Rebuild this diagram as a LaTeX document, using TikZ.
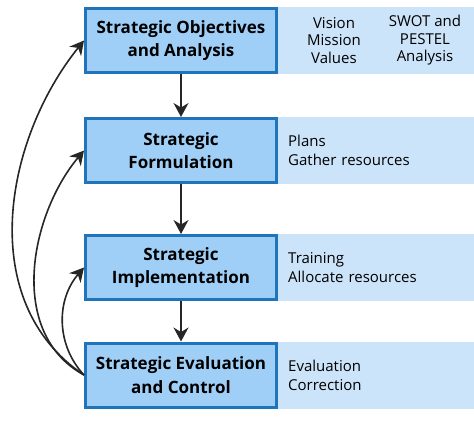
\documentclass[tikz,border=0pt]{standalone}
\usepackage{fontspec}
\setmainfont{Open Sans}
\usetikzlibrary{positioning,arrows.meta}
\definecolor{boxfill}{HTML}{9FCFF7}
\definecolor{boxline}{HTML}{1F74BA}
\definecolor{infofill}{HTML}{CCE4F9}

\begin{document}
\begin{tikzpicture}[x=1pt, y=-1pt,
  stage/.style={draw=boxline, fill=boxfill, line width=3pt, align=center, minimum width=191pt, minimum height=64pt, inner sep=1pt, font=\fontsize{17}{23.5}\selectfont\bfseries},
  info/.style={fill=infofill, minimum width=196pt, minimum height=67pt, text width=176pt, inner xsep=10pt, align=left, font=\fontsize{15}{19}\selectfont},
  col/.style={align=center, font=\fontsize{15}{17.5}\selectfont},
  arr/.style={-{Stealth[length=14pt, width=15pt]}, line width=1.6pt, black!85},
  node distance=0pt]
\useasboundingbox (0,0) rectangle (474,436);
\node[stage] (obj) at (181,40.5) {Strategic Objectives\\and Analysis};
\node[stage] (form) at (181,150.5) {Strategic\\Formulation};
\node[stage] (impl) at (181,267.5) {Strategic\\Implementation};
\node[stage] (eval) at (181,375) {Strategic Evaluation\\and Control};
\node[info, right=of obj] (objinfo) {};
\node[col] (vision) at (334,40.5) {Vision\\Mission\\Values};
\node[col] (swot) at (425,40.5) {SWOT and\\PESTEL\\Analysis};
\node[info, right=of form] (forminfo) {Plans\\Gather resources};
\node[info, right=of impl] (implinfo) {Training\\Allocate resources};
\node[info, right=of eval] (evalinfo) {Evaluation\\Correction};
\foreach \a/\b in {obj/form, form/impl, impl/eval} \draw[arr] (\a) -- (\b);
% feedback loops
\draw[arr] (eval.west) .. controls (-25,302) and (4,140) .. (obj.west);
\draw[arr] (eval.west) .. controls (7,333) and (30,215) .. (form.west);
\draw[arr] (eval.west) .. controls (56,345) and (56,300) .. (impl.west);
\end{tikzpicture}
\end{document}
